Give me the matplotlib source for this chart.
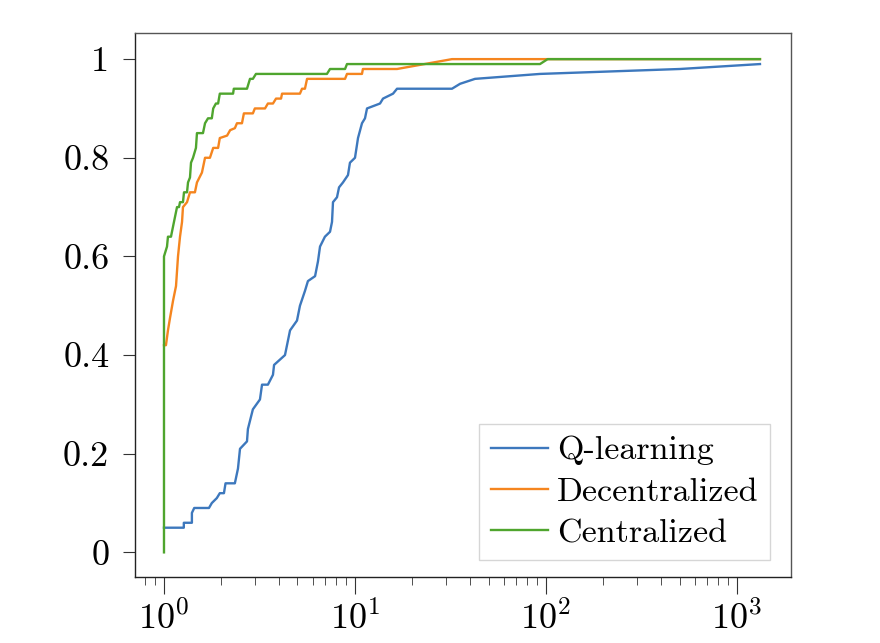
import matplotlib
matplotlib.use("Agg")
import matplotlib.pyplot as plt
from matplotlib.ticker import FixedLocator, LogLocator, NullFormatter

plt.rcParams["font.family"] = ["cmr10", "DejaVu Serif"]
plt.rcParams["mathtext.fontset"] = "cm"
plt.rcParams["axes.formatter.use_mathtext"] = True

q_x = [1.0, 1.27, 1.27, 1.40, 1.40, 1.44, 1.72, 1.78, 1.89, 1.96, 2.06, 2.10, 2.35,
       2.44, 2.50, 2.72, 2.75, 2.92, 3.18, 3.26, 3.50, 3.72, 3.77, 4.30, 4.57, 4.97,
       5.15, 5.47, 5.67, 6.18, 6.40, 6.56, 6.96, 7.40, 7.58, 7.67, 8.05, 8.25, 8.65,
       9.19, 9.41, 10.0, 10.37, 10.88, 11.28, 11.56, 13.52, 14.02, 15.82, 16.6, 32.2,
       35.5, 42.5, 93, 503, 1319]
q_y = [0.05, 0.05, 0.06, 0.06, 0.08, 0.09, 0.09, 0.10, 0.11, 0.12, 0.12, 0.14, 0.14,
       0.17, 0.21, 0.225, 0.25, 0.29, 0.31, 0.34, 0.34, 0.36, 0.38, 0.40, 0.45, 0.47,
       0.50, 0.53, 0.55, 0.56, 0.59, 0.62, 0.64, 0.65, 0.67, 0.71, 0.72, 0.74, 0.75,
       0.765, 0.79, 0.80, 0.84, 0.87, 0.88, 0.90, 0.91, 0.92, 0.93, 0.94, 0.94,
       0.95, 0.96, 0.97, 0.98, 0.99]

d_x = [1.0, 1.024, 1.049, 1.075, 1.115, 1.156, 1.184, 1.213, 1.243, 1.257, 1.32, 1.368,
       1.452, 1.488, 1.58, 1.60, 1.64, 1.74, 1.81, 1.92, 1.96, 2.14, 2.22, 2.35, 2.41,
       2.56, 2.62, 2.92, 2.99, 3.38, 3.50, 3.72, 3.86, 4.10, 4.15, 5.15, 5.28, 5.47,
       5.61, 8.87, 9.08, 10.88, 11.0, 16.6, 32.2, 1319]
d_y = [0.42, 0.42, 0.45, 0.475, 0.51, 0.54, 0.60, 0.64, 0.67, 0.70, 0.71, 0.73,
       0.73, 0.75, 0.77, 0.78, 0.80, 0.80, 0.82, 0.82, 0.84, 0.845, 0.856, 0.86, 0.87,
       0.87, 0.89, 0.89, 0.90, 0.90, 0.91, 0.91, 0.92, 0.92, 0.93, 0.93, 0.94, 0.94,
       0.96, 0.96, 0.97, 0.97, 0.98, 0.98, 1.0, 1.0]

c_x = [1.0, 1.0, 1.037, 1.049, 1.088, 1.101, 1.128, 1.170, 1.198, 1.213, 1.257, 1.273,
       1.32, 1.336, 1.368, 1.385, 1.419, 1.47, 1.488, 1.60, 1.64, 1.70, 1.78, 1.81,
       1.87, 1.92, 1.96, 2.04, 2.30, 2.32, 2.72, 2.82, 2.92, 3.03, 7.13, 7.40, 8.87,
       9.08, 93, 102, 1319]
c_y = [0.0, 0.60, 0.62, 0.64, 0.64, 0.65, 0.67, 0.70, 0.70, 0.71, 0.71, 0.73,
       0.73, 0.75, 0.76, 0.79, 0.80, 0.82, 0.85, 0.85, 0.87, 0.88, 0.88, 0.90,
       0.91, 0.91, 0.93, 0.93, 0.93, 0.94, 0.94, 0.96, 0.96, 0.97, 0.97, 0.98, 0.98,
       0.99, 0.99, 1.0, 1.0]

labels = ["Q-learning", "Decentralized", "Centralized"]
colors = ["#3d78bd", "#f5851f", "#4fa52e"]
y_ticks = [0, 0.2, 0.4, 0.6, 0.8, 1]
y_tick_labels = ["0", "0.2", "0.4", "0.6", "0.8", "1"]

fig = plt.figure(figsize=(8.8, 6.43), dpi=100)
ax = fig.add_axes([0.1534, 0.1026, 0.7455, 0.8461])

for xs, ys, lab, col in zip([q_x, d_x, c_x], [q_y, d_y, c_y], labels, colors):
    ax.plot(xs, ys, color=col, lw=1.7, label=lab)

ax.set_xscale("log")
ax.set_xlim(0.705, 1918)
ax.set_ylim(-0.05, 1.053)

ax.yaxis.set_major_locator(FixedLocator(y_ticks))
ax.set_yticklabels(y_tick_labels)
ax.xaxis.set_major_locator(LogLocator(base=10, numticks=10))
ax.xaxis.set_minor_locator(LogLocator(base=10, subs=range(2, 10), numticks=20))
ax.xaxis.set_minor_formatter(NullFormatter())

ax.tick_params(axis="both", which="major", labelsize=26, direction="out", color="#333333")
ax.tick_params(axis="x", which="major", length=12, pad=5)
ax.tick_params(axis="x", which="minor", length=6, color="#333333")
ax.tick_params(axis="y", which="major", length=8.5, pad=10)
ax.tick_params(top=False, right=False, which="both")

for side in ["left", "bottom"]:
    ax.spines[side].set_color("#222222")
for side in ["top", "right"]:
    ax.spines[side].set_color("#555555")
for sp in ax.spines.values():
    sp.set_linewidth(1.0)

leg = ax.legend(loc="lower right", fontsize=24.5, frameon=True, fancybox=False,
                handlelength=1.68, handletextpad=0.25, labelspacing=0.34,
                borderpad=0.35, borderaxespad=0, bbox_to_anchor=(0.968, 0.031))
leg.get_frame().set_edgecolor("#cccccc")
leg.get_frame().set_linewidth(1.0)

fig.savefig("out.png", dpi=100)
